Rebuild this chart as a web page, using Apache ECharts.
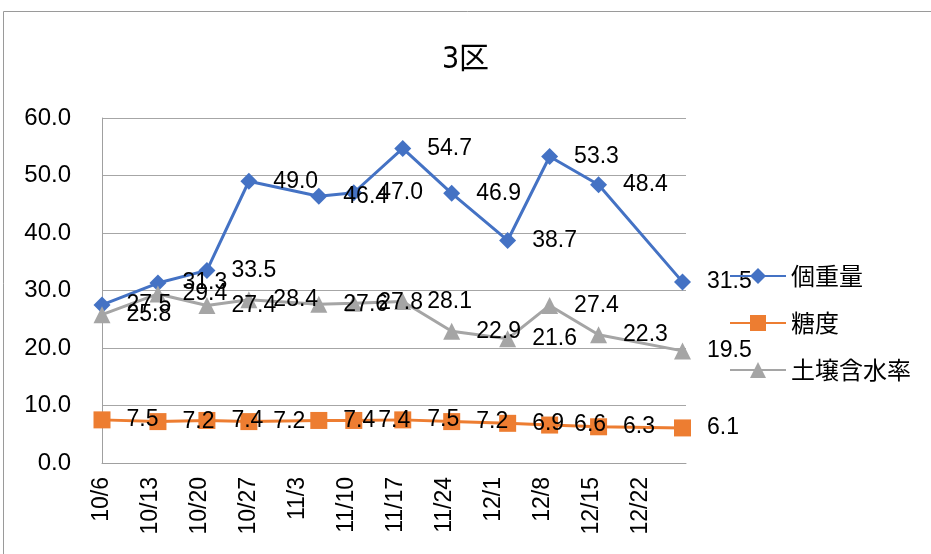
<!DOCTYPE html>
<html>
<head>
<meta charset="utf-8" />
<title>3区</title>
<style type="text/css">
body,div{margin:0;padding:0;}
#chart{width:931px;height:554px;}
</style>
<script src="https://cdn.jsdelivr.net/npm/echarts@6/dist/echarts.min.js"></script>
</head>
<body>
<div id="chart"></div>
<script type="text/javascript">
// 調査日（10/6起点）
var dates = ['10/6', '10/14', '10/21', '10/27', '11/6', '11/11', '11/18', '11/25', '12/3', '12/9', '12/16', '12/28'];
var weight = [27.5, 31.3, 33.5, 49.0, 46.4, 47.0, 54.7, 46.9, 38.7, 53.3, 48.4, 31.5];
var sugar = [7.5, 7.2, 7.4, 7.2, 7.4, 7.4, 7.5, 7.2, 6.9, 6.6, 6.3, 6.1];
var moisture = [25.8, 29.4, 27.4, 28.4, 27.6, 27.8, 28.1, 22.9, 21.6, 27.4, 22.3, 19.5];
var tickLabels = ['10/6', '10/13', '10/20', '10/27', '11/3', '11/10', '11/17', '11/24', '12/1', '12/8', '12/15', '12/22'];
var yTicks = [0, 10, 20, 30, 40, 50, 60];

var font = "'Liberation Sans', Arial, 'Noto Sans CJK JP', sans-serif";
var cjk = "'Noto Sans CJK JP', sans-serif";

function dayOf(s) {
    var p = s.split('/');
    var t = Date.UTC(2021, +p[0] - 1, +p[1]);
    return Math.round((t - Date.UTC(2021, 9, 6)) / 86400000);
}
function pairs(vals) {
    return vals.map(function (v, i) { return [dayOf(dates[i]), v]; });
}

var lbl = {
    show: true,
    position: 'right',
    distance: 16,
    color: '#000',
    fontSize: 23,
    fontFamily: font,
    formatter: function (p) { return p.value[1].toFixed(1); }
};

var myChart = echarts.init(document.getElementById('chart'));
var option = {
    animation: false,
    backgroundColor: '#fff',
    title: {
        text: '3区',
        left: 'center',
        top: 40,
        textStyle: { fontSize: 30, fontWeight: 'normal', color: '#000', fontFamily: "'DejaVu Sans Condensed', 'Noto Sans CJK JP', sans-serif" }
    },
    graphic: [{
        type: 'rect',
        shape: { x: 3.5, y: 11.5, width: 960, height: 600 },
        style: { fill: 'none', stroke: '#9a9a9a', lineWidth: 1 },
        silent: true
    }],
    legend: {
        orient: 'vertical',
        left: 724,
        top: 259,
        itemWidth: 56,
        itemHeight: 20,
        itemGap: 23,
        textStyle: { fontSize: 24, color: '#000', fontFamily: cjk },
        data: ['個重量', '糖度', '土壌含水率']
    },
    grid: { left: 102, top: 118, width: 584, height: 345 },
    xAxis: {
        type: 'value',
        min: 0,
        max: 83.5,
        interval: 7,
        splitLine: { show: false },
        axisTick: { show: false },
        axisLine: { lineStyle: { color: '#a0a0a0', width: 1 } },
        axisLabel: {
            rotate: 90,
            margin: 14,
            showMaxLabel: false,
            color: '#000',
            fontSize: 23,
            fontFamily: font,
            formatter: function (v) { return tickLabels[Math.round(v / 7)] || ''; }
        }
    },
    yAxis: {
        type: 'value',
        min: yTicks[0],
        max: yTicks[yTicks.length - 1],
        interval: 10,
        axisLine: { show: true, lineStyle: { color: '#a0a0a0', width: 1 } },
        axisTick: { show: false },
        splitLine: { lineStyle: { color: '#a6a6a6', width: 1 } },
        axisLabel: {
            margin: 31,
            color: '#000',
            fontSize: 24,
            fontFamily: font,
            formatter: function (v) { return v.toFixed(1); }
        }
    },
    series: [
        {
            name: '個重量',
            type: 'line',
            data: pairs(weight),
            symbol: 'diamond',
            symbolSize: 17,
            lineStyle: { color: '#4472C4', width: 3 },
            itemStyle: { color: '#4472C4' },
            label: lbl
        },
        {
            name: '糖度',
            type: 'line',
            data: pairs(sugar),
            symbol: 'rect',
            symbolSize: 17,
            lineStyle: { color: '#ED7D31', width: 3 },
            itemStyle: { color: '#ED7D31' },
            label: lbl
        },
        {
            name: '土壌含水率',
            type: 'line',
            data: pairs(moisture),
            symbol: 'triangle',
            symbolSize: 17,
            lineStyle: { color: '#A5A5A5', width: 3 },
            itemStyle: { color: '#A5A5A5' },
            label: lbl
        }
    ]
};
myChart.setOption(option);
</script>
</body>
</html>
